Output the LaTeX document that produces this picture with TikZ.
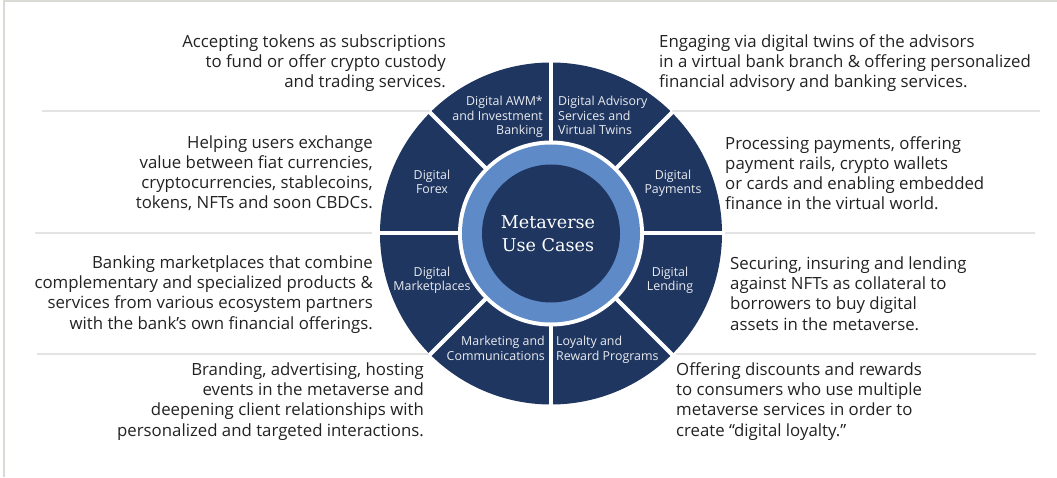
\documentclass[tikz,border=0pt]{standalone}
\usepackage{fontspec}
\setmainfont{Open Sans}
\newfontfamily\slabfont{DejaVu Serif}

\definecolor{navy}{HTML}{1F3660}
\definecolor{ringblue}{HTML}{5E8AC8}
\definecolor{rulegray}{HTML}{E3E3E3}
\definecolor{framegray}{HTML}{DADAD5}
\definecolor{ink}{HTML}{222222}

\tikzstyle{every node}=[inner sep=0pt]
\tikzstyle{usecase}=[text=white!90!navy,font=\fontsize{12.4}{14.5}\selectfont]
\tikzstyle{blurb}=[text=ink,font=\fontsize{16.8}{20.3}\selectfont]
\tikzstyle{rowrule}=[rulegray,line width=1.3pt]

\begin{document}
\begin{tikzpicture}[x=1pt,y=1pt]
  \useasboundingbox (0,0) rectangle (1057,477);
  \draw[framegray,line width=1.5pt] (4,0) -- (4,476) -- (1057,476);

  % rules between the rows
  \foreach \y/\xa/\xb/\xc/\xd in {366/42/430/672/1040,244/35/372/725/1035,123/37/432/676/1036}
  {
    \draw[rowrule] (\xa,\y) -- (\xb,\y);
    \draw[rowrule] (\xc,\y) -- (\xd,\y);
  }

  % the wheel
  \coordinate (hub) at (551,243.5);
  \fill[navy] (hub) circle[radius=171];
  \foreach \a in {0,45,...,315}
    \draw[white,line width=4pt] (hub) -- ++(\a:172);
  \fill[white] (hub) circle[radius=93];
  \fill[ringblue] (hub) circle[radius=89];
  \fill[navy] (hub) circle[radius=69];
  \node[anchor=base,align=center,text=white,font=\slabfont\fontsize{17.6}{23}\selectfont]
    (core) at (548,225) {Metaverse\\Use Cases};

  % use cases
  \node[usecase,anchor=base east,align=right] (awm) at (543,342) {Digital AWM*\\and Investment\\Banking};
  \node[usecase,anchor=base west,align=left] (advisory) at (558,342) {Digital Advisory\\Services and\\Virtual Twins};
  \node[usecase,anchor=base,align=center] (forex) at (432,283) {Digital\\Forex};
  \node[usecase,anchor=base,align=center] (payments) at (673,283) {Digital\\Payments};
  \node[usecase,anchor=base,align=center] (marketplaces) at (432,186) {Digital\\Marketplaces};
  \node[usecase,anchor=base,align=center] (lending) at (670,186) {Digital\\Lending};
  \node[usecase,anchor=base east,align=right] (marketing) at (545,117) {Marketing and\\Communications};
  \node[usecase,anchor=base west,align=left] (loyalty) at (556,117) {Loyalty and\\Reward Programs};

  % descriptions
  \node[blurb,anchor=base east,align=right] (awmtext) at (446,389)
    {Accepting tokens as subscriptions\\to fund or offer crypto custody\\and trading services.};
  \node[blurb,anchor=base west,align=left] (advisorytext) at (659,389)
    {Engaging via digital twins of the advisors\\in a virtual bank branch \& offering personalized\\financial advisory and banking services.};
  \node[blurb,anchor=base east,align=right] (forextext) at (373,268)
    {Helping users exchange\\value between fiat currencies,\\cryptocurrencies, stablecoins,\\tokens, NFTs and soon CBDCs.};
  \node[blurb,anchor=base west,align=left] (paymentstext) at (725,267)
    {Processing payments, offering\\payment rails, crypto wallets\\or cards and enabling embedded\\finance in the virtual world.};
  \node[blurb,anchor=base east,align=right] (marketplacestext) at (373,148)
    {Banking marketplaces that combine\\complementary and specialized products \&\\services from various ecosystem partners\\with the bank’s own financial offerings.};
  \node[blurb,anchor=base west,align=left] (lendingtext) at (730,147)
    {Securing, insuring and lending\\against NFTs as collateral to\\borrowers to buy digital\\assets in the metaverse.};
  \node[blurb,anchor=base east,align=right] (marketingtext) at (424,41)
    {Branding, advertising, hosting\\events in the metaverse and\\deepening client relationships with\\personalized and targeted interactions.};
  \node[blurb,anchor=base west,align=left] (loyaltytext) at (676,41)
    {Offering discounts and rewards\\to consumers who use multiple\\metaverse services in order to\\create “digital loyalty.”};
\end{tikzpicture}
\end{document}
